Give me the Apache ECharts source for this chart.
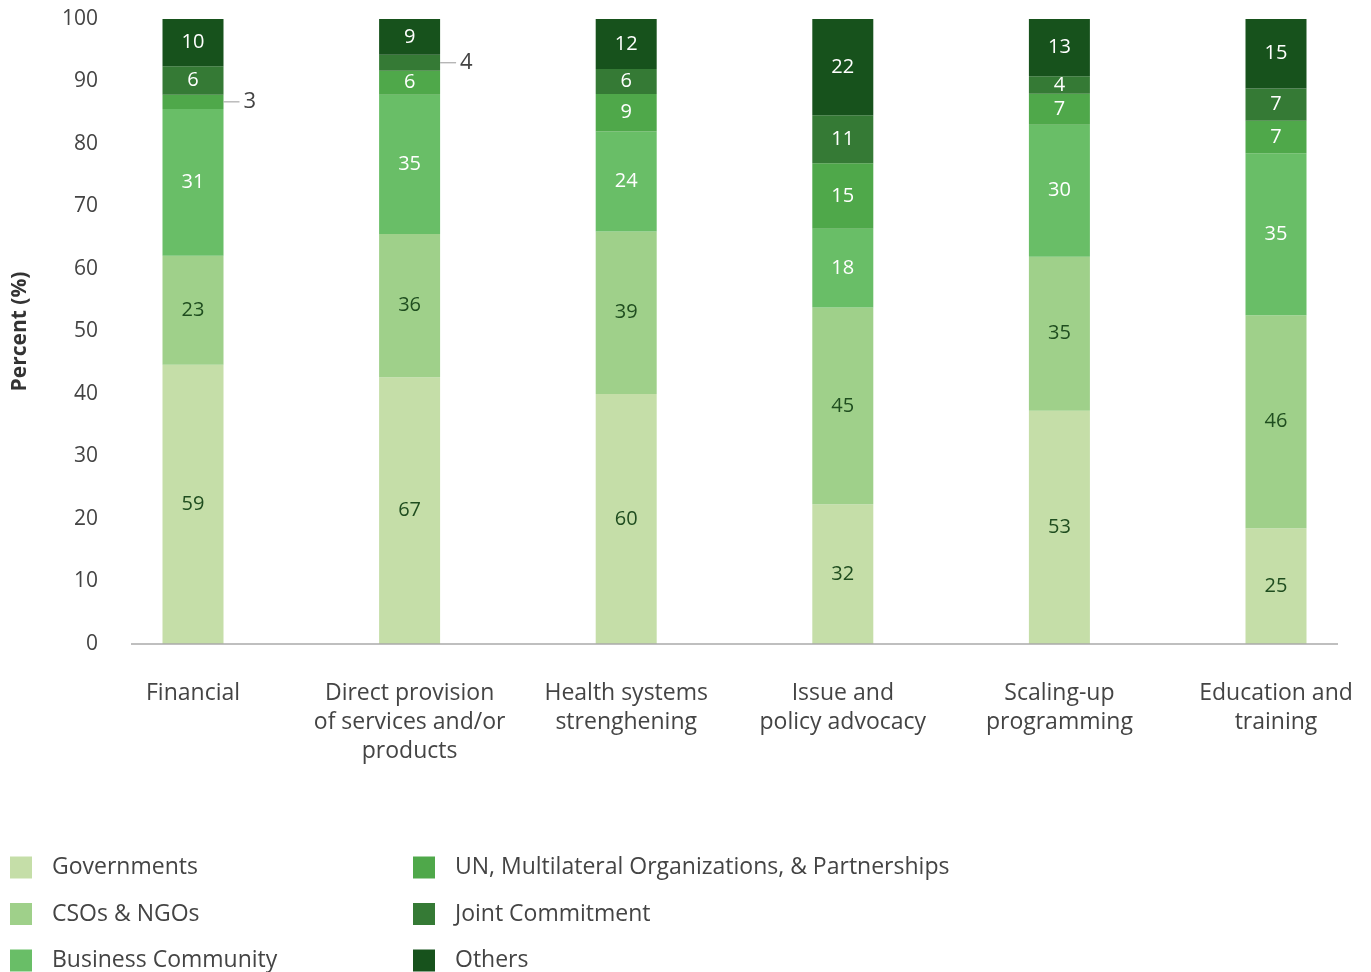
<!DOCTYPE html>
<html><head><meta charset="utf-8">
<script src="https://cdn.jsdelivr.net/npm/echarts@6/dist/echarts.min.js"></script>
<style>html,body{margin:0;padding:0;background:#fff}#c{width:1371px;height:972px}</style>
</head><body><div id="c"></div>
<script>
const categories = ['Financial', 'Direct provision\nof services and/or\nproducts', 'Health systems\nstrenghening', 'Issue and\npolicy advocacy', 'Scaling-up\nprogramming', 'Education and\ntraining'];
const seriesNames = ['Governments', 'CSOs & NGOs', 'Business Community', 'UN, Multilateral Organizations, & Partnerships', 'Joint Commitment', 'Others'];
const governments = [59, 67, 60, 32, 53, 25];
const csos = [23, 36, 39, 45, 35, 46];
const business = [31, 35, 24, 18, 30, 35];
const un = [3, 6, 9, 15, 7, 7];
const joint = [6, 4, 6, 11, 4, 7];
const others = [10, 9, 12, 22, 13, 15];
const yTicks = [0, 10, 20, 30, 40, 50, 60, 70, 80, 90, 100];
// segments whose value is written beside the bar (series index, category index)
const outsideLabels = [[3, 0], [4, 1]];

const colors = ['#c5dea8', '#9fd08a', '#69be67', '#4fa84a', '#357a35', '#17521c'];
const labelColors = ['#1f4d1f', '#1f4d1f', '#ffffff', '#ffffff', '#ffffff', '#ffffff'];
const FONT = 'Open Sans';
const all = [governments, csos, business, un, joint, others];
const totals = categories.map((_, i) => all.reduce((s, a) => s + a[i], 0));

const series = all.map((arr, si) => ({
  name: seriesNames[si],
  type: 'bar',
  stack: 'total',
  barWidth: 61,
  itemStyle: { color: colors[si] },
  label: {
    show: true, position: 'inside', color: labelColors[si], fontSize: 20, fontFamily: FONT,
    formatter: p => String(arr[p.dataIndex])
  },
  data: arr.map((v, i) => {
    const d = { value: v / totals[i] * 100 };
    if (outsideLabels.some(o => o[0] === si && o[1] === i)) {
      d.label = {
        position: 'right', distance: 0, color: '#444',
        formatter: '{l|}{n|' + v + '}',
        rich: {
          l: { width: 16, height: 1, backgroundColor: '#999' },
          n: { fontSize: 22, color: '#444', fontFamily: FONT, padding: [0, 0, 0, 4] }
        }
      };
    }
    return d;
  })
}));

const legends = seriesNames.map((name, i) => ({
  data: [name], orient: 'horizontal', padding: 0,
  left: i < 3 ? 10 : 413, top: 856 + (i % 3) * 46.5,
  itemWidth: 22, itemHeight: 22, icon: 'rect', selectedMode: false,
  textStyle: { fontSize: 23, color: '#444', fontFamily: FONT, padding: [0, 0, 0, 15] }
}));

const chart = echarts.init(document.getElementById('c'));
chart.setOption({
  animation: false,
  textStyle: { fontFamily: FONT },
  grid: { left: 84.7, right: -13.3, top: 19, bottom: 328, containLabel: false, outerBoundsMode: 'none' },
  legend: legends,
  xAxis: {
    type: 'category', data: categories,
    axisLine: { show: false }, axisTick: { show: false },
    axisLabel: { color: '#444', fontSize: 23, lineHeight: 29, margin: 35, interval: 0, fontFamily: FONT }
  },
  yAxis: {
    type: 'value', min: 0, max: 100, interval: 10, offset: -46.3,
    name: 'Percent (%)', nameLocation: 'middle', nameGap: 100, nameRotate: 90,
    nameTextStyle: { fontSize: 21, fontWeight: 'bold', color: '#333', fontFamily: FONT },
    axisLine: { show: false }, axisTick: { show: false }, splitLine: { show: false },
    axisLabel: { color: '#444', fontSize: 21, margin: 33, fontFamily: FONT,
      formatter: v => yTicks.includes(v) ? String(v) : '' }
  },
  graphic: [{ type: 'line', shape: { x1: 131, y1: 644, x2: 1338, y2: 644 }, style: { stroke: '#aaa', lineWidth: 1.5 }, z: 10 }],
  series
});
</script></body></html>
